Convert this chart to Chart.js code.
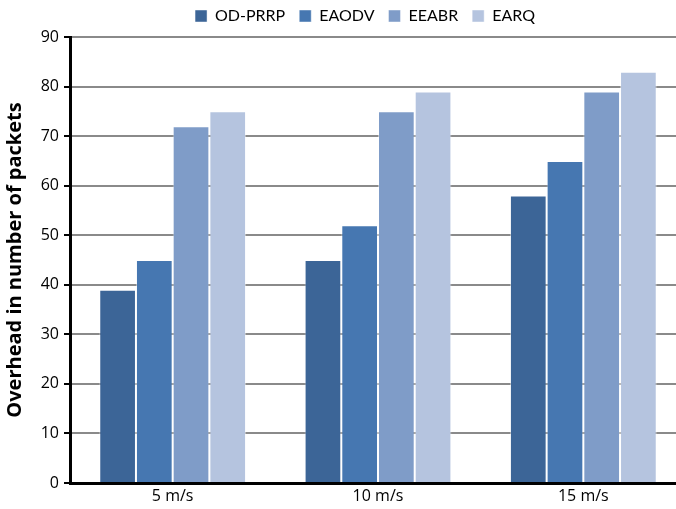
<!DOCTYPE html>
<html>
<head>
<meta charset="utf-8">
<script src="https://cdn.jsdelivr.net/npm/chart.js@4"></script>
<style>
  html, body { margin: 0; padding: 0; background: #fff; overflow: hidden; }
  #wrap { width: 700px; height: 509px; }
</style>
</head>
<body>
<div id="wrap"><canvas id="c" width="700" height="509"></canvas></div>
<script>
// Node speed categories
const speeds = ['5 m/s', '10 m/s', '15 m/s'];

// Routing overhead (packets) per protocol
const odPrrp = [39, 45, 58];
const eaodv  = [45, 52, 65];
const eeabr  = [72, 75, 79];
const earq   = [75, 79, 83];

const seriesNames  = ['OD-PRRP', 'EAODV', 'EEABR', 'EARQ'];
const seriesValues = [odPrrp, eaodv, eeabr, earq];
const seriesColors = ['#3c6597', '#4677b1', '#7f9cc8', '#b5c4df'];

const LEGEND_FONT = 'Lato, "Open Sans", sans-serif';
const AXIS_FONT = '"Open Sans", Lato, sans-serif';

// Nudge the legend row so it sits centred over the plot rather than the canvas
const legendShift = {
  id: 'legendShift',
  afterLayout(chart) {
    const lg = chart.legend;
    if (!lg) return;
    const dx = 22, dy = -3;
    lg.left += dx; lg.right += dx;
    lg.top += dy; lg.bottom += dy;
  }
};

new Chart(document.getElementById('c'), {
  type: 'bar',
  data: {
    labels: speeds,
    datasets: seriesNames.map((name, i) => ({
      label: name,
      data: seriesValues[i],
      backgroundColor: seriesColors[i],
      borderColor: 'rgba(255,255,255,0.45)',
      borderWidth: 1,
      categoryPercentage: 0.715,
      barPercentage: 1.0
    }))
  },
  plugins: [legendShift],
  options: {
    responsive: false,
    animation: false,
    devicePixelRatio: 1,
    layout: { padding: { left: 0, right: 14, top: -3, bottom: 0 } },
    plugins: {
      tooltip: { enabled: false },
      legend: {
        position: 'top',
        labels: {
          font: { family: LEGEND_FONT, size: 16 },
          color: '#000',
          boxWidth: 12,
          boxHeight: 12,
          padding: 14
        }
      }
    },
    scales: {
      x: {
        grid: { display: false, drawTicks: false },
        border: { display: true, color: '#000', width: 3 },
        ticks: { font: { family: AXIS_FONT, size: 16 }, color: '#000', padding: 4 },
        afterFit: s => { s.height = 26; }
      },
      y: {
        min: 0,
        max: 90,
        ticks: { stepSize: 10, font: { family: AXIS_FONT, size: 16 }, color: '#000', padding: 5 },
        grid: { color: '#8a8a8a', lineWidth: 2, tickLength: 6, tickColor: '#000', tickWidth: 2 },
        border: { display: true, color: '#000', width: 3 },
        title: {
          display: true,
          text: 'Overhead in number of packets',
          font: { family: AXIS_FONT, size: 20, weight: 'bold' },
          color: '#000',
          padding: { top: 3, bottom: 2 }
        },
        afterFit: s => { s.width = 70; }
      }
    }
  }
});
</script>
</body>
</html>
